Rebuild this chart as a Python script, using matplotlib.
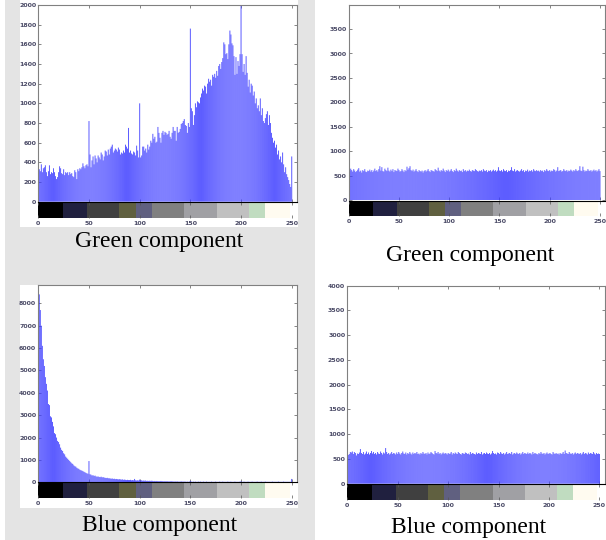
import numpy as np
import matplotlib
matplotlib.use("Agg")
import matplotlib.pyplot as plt
from matplotlib.patches import Rectangle

# histogram counts per grey level (0..255)
green_orig = [
    2100, 330, 310, 380, 300, 340, 350, 370, 300, 260,
    310, 370, 280, 300, 290, 340, 300, 260, 230, 250,
    300, 360, 340, 290, 280, 330, 270, 300, 290, 300,
    270, 300, 280, 290, 260, 250, 320, 300, 230, 330,
    310, 340, 330, 350, 390, 360, 340, 370, 380, 360,
    820, 480, 350, 420, 460, 380, 470, 440, 400, 470,
    450, 430, 500, 480, 420, 460, 520, 510, 470, 530,
    480, 540, 560, 580, 500, 520, 540, 530, 510, 550,
    530, 480, 500, 490, 520, 500, 580, 560, 540, 750,
    500, 520, 490, 480, 510, 500, 470, 570, 520, 450,
    1000, 450, 470, 560, 560, 520, 540, 500, 580, 530,
    560, 620, 600, 690, 640, 660, 600, 610, 760, 700,
    650, 600, 700, 720, 680, 710, 700, 680, 690, 720,
    660, 640, 700, 760, 720, 720, 620, 760, 700, 710,
    740, 790, 800, 820, 840, 780, 770, 700, 800, 760,
    1760, 950, 920, 780, 880, 1000, 960, 1020, 1010, 1000,
    1060, 1100, 1150, 1130, 1180, 1170, 1100, 1200, 1250, 1220,
    1240, 1180, 1290, 1270, 1300, 1260, 1330, 1280, 1380, 1400,
    1350, 1420, 1460, 1620, 1600, 1500, 1510, 1450, 1600, 1740,
    1700, 1610, 1590, 1480, 1290, 1470, 1300, 1430, 1380, 1500,
    2100, 1500, 1320, 1400, 1290, 1480, 1310, 1170, 1240, 1110,
    1200, 1180, 1080, 1120, 1000, 1050, 950, 980, 920, 1050,
    880, 950, 820, 800, 850, 890, 920, 780, 880, 800,
    700, 650, 600, 620, 550, 580, 480, 520, 430, 460,
    400, 500, 380, 300, 350, 280, 250, 220, 180, 150,
    460, 0, 0, 0, 0, 0,
]

green_enc = [
    4000, 600, 650, 620, 590, 640, 610, 580, 600, 630,
    660, 590, 610, 570, 620, 600, 640, 590, 580, 610,
    600, 630, 590, 620, 580, 610, 650, 600, 620, 590,
    640, 700, 610, 680, 600, 590, 650, 620, 600, 670,
    610, 590, 630, 600, 640, 580, 620, 610, 600, 650,
    620, 590, 600, 640, 610, 580, 620, 600, 690, 630,
    660, 700, 620, 600, 630, 590, 610, 640, 600, 580,
    620, 600, 590, 610, 570, 600, 620, 590, 610, 640,
    600, 580, 620, 610, 600, 590, 640, 620, 600, 670,
    610, 590, 620, 600, 650, 610, 580, 620, 600, 630,
    590, 610, 640, 600, 580, 620, 600, 650, 610, 590,
    620, 600, 610, 580, 640, 600, 620, 590, 610, 600,
    630, 600, 590, 620, 610, 600, 640, 620, 600, 590,
    610, 600, 620, 590, 640, 610, 600, 620, 580, 610,
    600, 620, 590, 610, 630, 600, 620, 590, 610, 680,
    610, 600, 620, 590, 640, 610, 600, 620, 580, 610,
    600, 620, 680, 610, 600, 640, 590, 610, 620, 600,
    590, 610, 640, 600, 620, 580, 610, 600, 630, 590,
    610, 600, 620, 590, 640, 610, 600, 620, 600, 610,
    590, 620, 600, 610, 580, 620, 600, 640, 610, 600,
    620, 590, 610, 600, 640, 620, 590, 610, 680, 600,
    610, 620, 590, 600, 640, 610, 600, 620, 590, 610,
    600, 630, 610, 590, 620, 600, 640, 610, 600, 620,
    700, 610, 600, 690, 620, 590, 610, 600, 640, 610,
    600, 620, 590, 610, 630, 600, 620, 590, 610, 640,
    600, 0, 0, 0, 0, 0,
]

blue_orig = [
    8800, 8400, 7700, 7000, 6100, 5500, 5200, 4700, 4400, 4100,
    3500, 3450, 2950, 2900, 2700, 2500, 2200, 2150, 2000, 1850,
    1800, 1700, 1550, 1450, 1400, 1300, 1250, 1150, 1100, 1050,
    1000, 950, 900, 850, 820, 760, 720, 700, 650, 620,
    600, 560, 540, 520, 500, 470, 450, 420, 400, 380,
    950, 360, 340, 300, 320, 280, 300, 260, 250, 260,
    240, 230, 250, 220, 230, 210, 200, 190, 200, 180,
    180, 170, 160, 170, 150, 160, 140, 150, 140, 130,
    140, 130, 120, 130, 110, 120, 110, 100, 110, 100,
    100, 110, 90, 100, 90, 150, 90, 80, 90, 80,
    120, 80, 90, 70, 80, 70, 80, 60, 70, 60,
    70, 60, 70, 60, 50, 60, 50, 60, 50, 50,
    50, 60, 50, 50, 40, 50, 40, 50, 40, 40,
    40, 50, 40, 40, 30, 40, 30, 40, 30, 30,
    30, 40, 30, 30, 30, 30, 20, 30, 20, 30,
    50, 30, 20, 30, 20, 30, 20, 20, 30, 20,
    30, 20, 20, 30, 20, 20, 30, 20, 20, 20,
    20, 30, 20, 20, 20, 30, 20, 20, 20, 30,
    20, 20, 30, 20, 20, 20, 20, 30, 20, 20,
    30, 20, 20, 20, 30, 20, 20, 20, 20, 30,
    40, 20, 20, 30, 20, 20, 20, 30, 20, 20,
    20, 30, 20, 20, 20, 20, 30, 20, 20, 20,
    30, 20, 20, 20, 30, 20, 20, 20, 20, 20,
    20, 30, 20, 20, 20, 20, 20, 30, 20, 20,
    20, 20, 30, 20, 20, 20, 20, 20, 20, 20,
    150, 0, 0, 0, 0, 0,
]

blue_enc = [
    4000, 580, 600, 640, 630, 650, 600, 640, 620, 570,
    610, 600, 630, 700, 620, 600, 640, 590, 610, 650,
    600, 630, 590, 620, 660, 610, 640, 600, 620, 590,
    640, 610, 600, 650, 620, 590, 630, 610, 720, 640,
    600, 620, 590, 610, 640, 600, 620, 610, 590, 630,
    600, 640, 610, 590, 620, 650, 610, 600, 630, 590,
    620, 600, 640, 610, 590, 630, 600, 620, 610, 640,
    600, 610, 590, 620, 600, 640, 610, 600, 620, 590,
    630, 600, 610, 640, 620, 600, 590, 660, 620, 610,
    640, 600, 620, 590, 610, 630, 600, 620, 610, 590,
    620, 600, 610, 640, 590, 620, 600, 630, 610, 600,
    640, 620, 600, 590, 620, 610, 600, 630, 620, 600,
    610, 590, 640, 600, 620, 610, 600, 590, 630, 600,
    620, 610, 600, 640, 590, 610, 620, 600, 630, 610,
    600, 620, 590, 610, 660, 620, 600, 610, 590, 630,
    620, 600, 640, 610, 600, 620, 590, 610, 640, 600,
    610, 620, 600, 640, 590, 610, 620, 600, 630, 610,
    600, 620, 590, 610, 640, 600, 620, 610, 600, 630,
    600, 620, 610, 590, 640, 600, 620, 610, 600, 590,
    620, 600, 640, 610, 600, 620, 590, 610, 630, 600,
    610, 620, 600, 590, 640, 610, 600, 620, 600, 610,
    590, 620, 600, 610, 640, 600, 670, 620, 610, 600,
    640, 610, 600, 620, 590, 610, 630, 600, 620, 610,
    600, 620, 590, 610, 640, 600, 620, 610, 590, 630,
    600, 620, 610, 600, 640, 610, 590, 620, 600, 610,
    600, 0, 0, 0, 0, 0,
]

# colour strip under each histogram (index ranges of the colormap)
strip_edges = [0, 24, 48, 80, 96, 112, 144, 176, 208, 224, 248, 256]
strip_colors = ['#000000', '#20203f', '#404040', '#606040', '#606080', '#808080',
                '#a0a0a4', '#c0c0c0', '#c0dcc0', '#fffbf0', '#ffffff']

captions = ['Green component', 'Green component', 'Blue component', 'Blue component']

W, H = 606, 540
GRAY = '#e4e4e4'
BAR = '#3c3cff'
TICK_COL = '#4a4a66'


def fig_rect(x0, y0, x1, y1):
    # pixel box (top-left origin) -> figure fraction [l, b, w, h]
    return [x0 / W, 1 - y1 / H, (x1 - x0) / W, (y1 - y0) / H]


fig = plt.figure(figsize=(W / 100, H / 100), dpi=100)
fig.patch.set_facecolor('white')

# grey backing on the left half, with white plot windows
for (x0, y0, x1, y1), col in [((5, 0, 315, 540), GRAY),
                              ((20, 0, 298, 227), 'white'),
                              ((20, 285, 298, 508), 'white')]:
    l, b, w, h = fig_rect(x0, y0, x1, y1)
    fig.patches.append(Rectangle((l, b), w, h, transform=fig.transFigure,
                                 facecolor=col, edgecolor='none', zorder=-10))

panels = [
    # counts, hist box (x0, top, x1, zero line), strip bottom, ymax, yticks
    (green_orig, (38.3, 5, 296.8, 201.7), 218.3, 2000, np.arange(0, 2001, 200)),
    (green_enc, (348.7, 4.5, 605.0, 200.5), 216.0, 4000, np.arange(0, 3501, 500)),
    (blue_orig, (38.3, 285, 296.7, 482.3), 498.3, 8820, np.arange(0, 8001, 1000)),
    (blue_enc, (347.3, 285.7, 604.5, 483.7), 500.0, 4000, np.arange(0, 4001, 500)),
]

levels = np.arange(256)
xt = np.arange(0, 251, 50)

for counts, (x0, top, x1, zero), sbot, ymax, yt in panels:
    ax = fig.add_axes(fig_rect(x0, top, x1, zero))
    stems = ax.vlines(levels, 0, counts, colors=BAR, linewidth=0.7, alpha=0.85)
    stems.set_snap(False)
    ax.set_xlim(0, 255)
    ax.set_ylim(0, ymax)
    ax.set_xticks(xt)
    ax.set_xticklabels([])
    ax.set_yticks(yt)
    ax.set_yticklabels([str(v) for v in yt], fontsize=4.5, color=TICK_COL,
                       fontweight='bold')
    ax.tick_params(direction='in', length=2, width=0.5, color='#555555',
                   top=True, right=True, pad=1.5)
    for s in ax.spines.values():
        s.set_color('#808080')
        s.set_linewidth(0.8)
    ax.spines['bottom'].set_visible(False)

    sax = fig.add_axes(fig_rect(x0, zero, x1, sbot))
    sax.bar(strip_edges[:-1], 1, width=np.diff(strip_edges), color=strip_colors,
            align='edge')
    sax.set_xlim(0, 255)
    sax.set_ylim(0, 1)
    sax.set_yticks([])
    sax.set_xticks(xt)
    sax.set_xticklabels([str(v) for v in xt], fontsize=4.5, color=TICK_COL,
                        fontweight='bold')
    sax.tick_params(direction='in', length=2, width=0.5, color='#555555',
                    top=True, pad=2)
    for s in sax.spines.values():
        s.set_visible(False)
    sax.spines['top'].set_visible(True)
    sax.spines['top'].set_color('#000000')
    sax.spines['top'].set_linewidth(0.8)

caption_pos = [(159, 242), (470, 256), (160, 526), (469, 527)]
for text, (cx, cy) in zip(captions, caption_pos):
    fig.text(cx / W, 1 - cy / H, text, ha='center', va='center',
             fontsize=17, family='Liberation Serif', color='black')

fig.savefig('out.png', dpi=100)
